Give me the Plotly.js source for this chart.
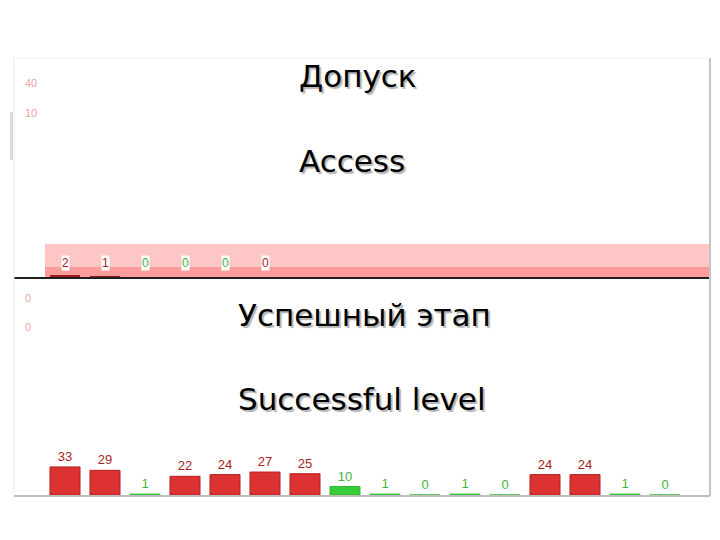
<!DOCTYPE html>
<html><head><meta charset="utf-8">
<script src="https://cdn.plot.ly/plotly-3.0.1.min.js"></script>
<style>html,body{margin:0;padding:0;background:#fff}</style>
</head><body><div id="chart" style="width:720px;height:540px"></div>
<script>
// ---- data ----
const categories = ['1','2','3','4','5','6','7','8','9','10','11','12','13','14','15','16'];
const accessValues = [2, 1, 0, 0, 0, 0];
const accessStatus = ['fail','fail','pass','pass','pass','fail'];
const levelValues = [33, 29, 1, 22, 24, 27, 25, 10, 1, 0, 1, 0, 24, 24, 1, 0];
const levelStatus = ['fail','fail','pass','fail','fail','fail','fail','pass','pass','pass','pass','pass','fail','fail','pass','pass'];
const topTickLabels = ['40', '10'];
const bottomTickLabels = ['0', '0'];
const captionTop = ['Допуск', 'Access'];
const captionBottom = ['Успешный этап', 'Successful level'];

// ---- styles ----
const barFill = {fail: '#dc3232', pass: '#38cc38'};
const barEdge = {fail: '#b41f1f', pass: '#2fb82f'};
const labelColor = {fail: '#a82424', pass: '#3cb53c'};
const W = 720, H = 540;
const px = v => v / W, py = v => (H - v) / H;

const traces = [
  {
    type: 'bar', x: categories.slice(0, accessValues.length), y: accessValues,
    xaxis: 'x', yaxis: 'y', width: 0.75,
    marker: {color: '#a01c1c', line: {width: 0}},
    hoverinfo: 'skip'
  },
  {
    type: 'bar', x: categories, y: levelValues,
    xaxis: 'x2', yaxis: 'y2', width: 0.75,
    marker: {color: levelStatus.map(s => barFill[s]), line: {color: levelStatus.map(s => barEdge[s]), width: 1}},
    text: levelValues.map(String), textposition: 'outside', constraintext: 'none', cliponaxis: false,
    textfont: {family: 'Liberation Sans, Arial, sans-serif', size: 13, color: levelStatus.map(s => labelColor[s])},
    hoverinfo: 'skip'
  }
];

const annotations = [];
accessValues.forEach((v, i) => {
  annotations.push({
    xref: 'x', yref: 'y', x: i, y: 0, yshift: 14, showarrow: false,
    text: String(v), bgcolor: '#ffffff', borderpad: 0,
    font: {family: 'Liberation Sans, Arial, sans-serif', size: 12, color: labelColor[accessStatus[i]]}
  });
});
const capFont = {family: 'DejaVu Sans, sans-serif', size: 31, color: '#000', shadow: '2px 2px 1px #b4b4b4'};
annotations.push({xref: 'paper', yref: 'paper', x: px(297), y: py(76), xanchor: 'left', yanchor: 'middle', showarrow: false, text: captionTop[0], font: capFont});
annotations.push({xref: 'paper', yref: 'paper', x: px(297), y: py(161), xanchor: 'left', yanchor: 'middle', showarrow: false, text: captionTop[1], font: capFont});
annotations.push({xref: 'paper', yref: 'paper', x: px(236), y: py(315), xanchor: 'left', yanchor: 'middle', showarrow: false, text: captionBottom[0], font: capFont});
annotations.push({xref: 'paper', yref: 'paper', x: px(236), y: py(399), xanchor: 'left', yanchor: 'middle', showarrow: false, text: captionBottom[1], font: capFont});

const shapes = [
  {type: 'rect', xref: 'paper', yref: 'paper', x0: px(45), x1: px(710), y0: py(277), y1: py(244), fillcolor: '#ffc6c6', line: {width: 0}, layer: 'below'},
  {type: 'rect', xref: 'paper', yref: 'paper', x0: px(45), x1: px(710), y0: py(277), y1: py(267), fillcolor: '#ff9c9c', line: {width: 0}, layer: 'below'},
  {type: 'line', xref: 'paper', yref: 'paper', x0: px(710), x1: px(710), y0: py(496), y1: py(58), line: {color: '#c4c4c4', width: 2}},
  {type: 'line', xref: 'paper', yref: 'paper', x0: px(14), x1: px(14), y0: py(495), y1: py(58), line: {color: '#ececec', width: 1}},
  {type: 'line', xref: 'paper', yref: 'paper', x0: px(14), x1: px(710), y0: py(58), y1: py(58), line: {color: '#f2f2f2', width: 1}},
  {type: 'rect', xref: 'paper', yref: 'paper', x0: px(10), x1: px(13), y0: py(160), y1: py(112), fillcolor: '#d8dcdc', line: {width: 0}}
];

const xCommon = {type: 'category', range: [-1.275, 16.125], showticklabels: false, showgrid: false, zeroline: false, fixedrange: true, categoryorder: 'array', categoryarray: categories};
const layout = {
  width: W, height: H, margin: {l: 0, r: 0, t: 0, b: 0},
  paper_bgcolor: '#fff', plot_bgcolor: 'rgba(0,0,0,0)', showlegend: false, bargap: 0.25,
  xaxis: Object.assign({}, xCommon, {domain: [px(14), px(710)], anchor: 'y', showline: true, linecolor: '#1e1e1e', linewidth: 1.5}),
  yaxis: {domain: [py(277), py(60)], range: [0, 217], anchor: 'x', showgrid: false, zeroline: false,
          tickmode: 'array', tickvals: [194, 164], ticktext: topTickLabels, ticks: '',
          ticklabelposition: 'inside', ticklabelstandoff: 8,
          tickfont: {family: 'Liberation Sans, Arial, sans-serif', size: 11, color: '#f0a4a4'}},
  xaxis2: Object.assign({}, xCommon, {domain: [px(14), px(710)], anchor: 'y2', showline: true, linecolor: '#bdbdbd', linewidth: 2}),
  yaxis2: {domain: [py(495), py(285)], range: [0, 247], anchor: 'x2', showgrid: false, zeroline: false,
          tickmode: 'array', tickvals: [232, 197], ticktext: bottomTickLabels, ticks: '',
          ticklabelposition: 'inside', ticklabelstandoff: 8,
          tickfont: {family: 'Liberation Sans, Arial, sans-serif', size: 11, color: '#f0a4a4'}},
  annotations: annotations, shapes: shapes
};
Plotly.newPlot('chart', traces, layout, {displayModeBar: false, staticPlot: true});
</script></body></html>
